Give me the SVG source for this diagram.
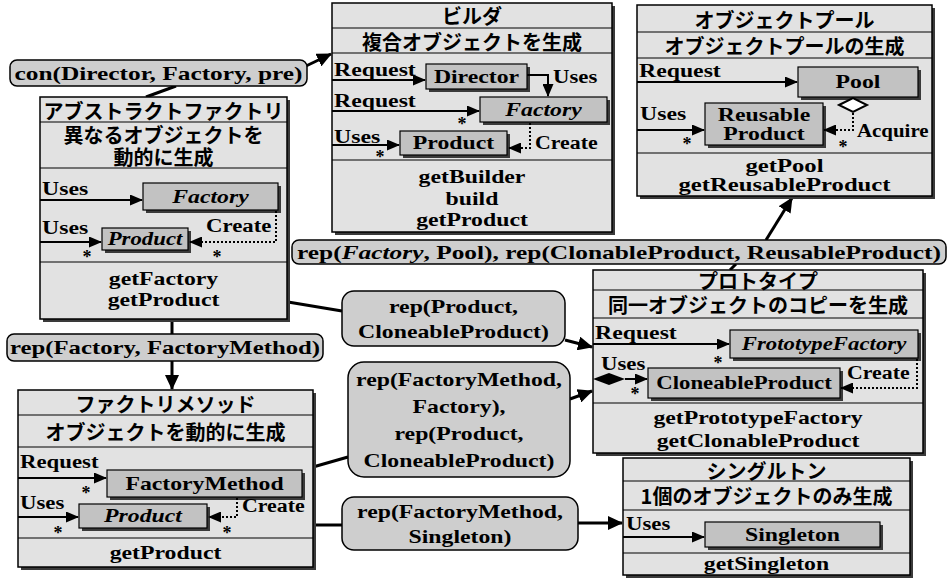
<svg xmlns="http://www.w3.org/2000/svg" width="949" height="586" viewBox="0 0 949 586">
<style>
.bg{fill:#fff}
.box{fill:#e2e2e2;stroke:#000;stroke-width:1.5}
.sh{fill:#3a3a3a}
.cls{fill:#c2c2c2;stroke:#000;stroke-width:1.2}
.lbl{fill:#cecece;stroke:#000;stroke-width:1.5}
.sep{stroke:#000;stroke-width:1.2}
.t{font-family:"Liberation Serif","Times New Roman",serif;font-weight:bold;font-size:19px;fill:#000}
.jp{font-family:"Noto Sans CJK JP",sans-serif;font-weight:bold;font-size:20px;fill:#000}
.c{text-anchor:middle;dominant-baseline:central}
.s{dominant-baseline:central}
.i{font-style:italic}
.st{font-family:"Liberation Serif",serif;font-size:18px;font-weight:bold;text-anchor:middle}
.ln{stroke:#000;stroke-width:2;fill:none}
.dot{stroke:#000;stroke-width:2;stroke-dasharray:2 2;fill:none}
.con{stroke:#000;stroke-width:3;fill:none}
</style>
<defs>
<marker id="ah" markerUnits="userSpaceOnUse" markerWidth="16" markerHeight="14" refX="14" refY="7" orient="auto"><path d="M0,0 L15,7 L0,14 z" fill="#000"/></marker>
<marker id="as" markerUnits="userSpaceOnUse" markerWidth="13" markerHeight="11" refX="12" refY="5.5" orient="auto"><path d="M0,0 L13,5.5 L0,11 z" fill="#000"/></marker>
</defs>
<rect class="bg" x="0" y="0" width="949" height="586"/>

<g id="connectors">
<path class="con" d="M306,66 L331,54" marker-end="url(#ah)"/>
<path class="con" d="M146,97 L176,86"/>
<path class="con" d="M172,319 V334"/>
<path class="con" d="M172,361 V389" marker-end="url(#ah)"/>
<path class="con" d="M288,302 L342,311"/>
<path class="con" d="M565,340 L592,347" marker-end="url(#ah)"/>
<path class="con" d="M313,467 L348,457"/>
<path class="con" d="M570,399 L592,391" marker-end="url(#ah)"/>
<path class="con" d="M313,525 H342"/>
<path class="con" d="M578,523 H622" marker-end="url(#ah)"/>
<path class="con" d="M730,270 L736,264"/>
<path class="con" d="M766,240 L792,198" marker-end="url(#ah)"/>
</g>

<g id="label-con">
<rect class="lbl" x="10" y="60" width="297" height="26" rx="7"/>
<text class="t c" x="158.5" y="73" font-size="20" textLength="288" lengthAdjust="spacingAndGlyphs">con(Director, Factory, pre)</text>
</g>

<g id="label-rep-factory-pool">
<rect class="lbl" x="292" y="240" width="654" height="24" rx="7"/>
<text class="t c" x="619" y="252" font-size="20" textLength="644" lengthAdjust="spacingAndGlyphs">rep(<tspan class="i">Factory</tspan>, Pool), rep(ClonableProduct, ReusableProduct)</text>
</g>

<g id="label-rep-factory-fm">
<rect class="lbl" x="7" y="334" width="316" height="27" rx="7"/>
<text class="t c" x="165" y="347.5" font-size="20" textLength="310" lengthAdjust="spacingAndGlyphs">rep(Factory, FactoryMethod)</text>
</g>

<g id="label-rep-product-cp">
<rect class="lbl" x="342" y="291" width="223" height="55" rx="12"/>
<text class="t c" transform="translate(453.5 307) scale(1.25 1)">rep(Product,</text>
<text class="t c" transform="translate(453.5 332) scale(1.25 1)">CloneableProduct)</text>
</g>

<g id="label-rep-fm-factory">
<rect class="lbl" x="348" y="362" width="222" height="115" rx="16"/>
<text class="t c" transform="translate(459 380) scale(1.25 1)">rep(FactoryMethod,</text>
<text class="t c" transform="translate(459 407) scale(1.25 1)">Factory),</text>
<text class="t c" transform="translate(459 434) scale(1.25 1)">rep(Product,</text>
<text class="t c" transform="translate(459 461) scale(1.25 1)">CloneableProduct)</text>
</g>

<g id="label-rep-fm-singleton">
<rect class="lbl" x="342" y="497" width="236" height="53" rx="12"/>
<text class="t c" transform="translate(460 512) scale(1.25 1)">rep(FactoryMethod,</text>
<text class="t c" transform="translate(460 537) scale(1.25 1)">Singleton)</text>
</g>

<g id="abstract-factory">
<rect class="sh" x="43" y="100" width="247" height="222"/>
<rect class="box" x="40" y="97" width="247" height="222"/>
<line class="sep" x1="40" y1="122" x2="287" y2="122"/>
<line class="sep" x1="40" y1="168" x2="287" y2="168"/>
<line class="sep" x1="40" y1="262" x2="287" y2="262"/>
<text class="jp c" x="163.5" y="110" font-size="18">アブストラクトファクトリ</text>
<text class="jp c" x="163.5" y="134" font-size="18">異なるオブジェクトを</text>
<text class="jp c" x="163.5" y="156" font-size="18">動的に生成</text>
<text class="t s" transform="translate(42 189) scale(1.25 1)">Uses</text>
<path class="ln" d="M40,200 H142" marker-end="url(#as)"/>
<rect class="sh" x="146" y="186" width="135" height="27"/>
<rect class="cls" x="143" y="183" width="135" height="27"/>
<text class="t c i" transform="translate(210.5 196.5) scale(1.25 1)">Factory</text>
<text class="t s" transform="translate(42 228) scale(1.25 1)">Uses</text>
<path class="ln" d="M40,242 H101" marker-end="url(#as)"/>
<rect class="sh" x="105" y="231" width="86" height="22"/>
<rect class="cls" x="102" y="228" width="86" height="22"/>
<text class="t c i" transform="translate(145 239) scale(1.2 1)">Product</text>
<text class="t s" transform="translate(206 226) scale(1.2 1)">Create</text>
<path class="dot" d="M276,211 V242 H190" marker-end="url(#as)"/>
<text class="st" x="87" y="263">*</text>
<text class="st" x="217" y="263">*</text>
<text class="t c" transform="translate(163.5 279) scale(1.25 1)">getFactory</text>
<text class="t c" transform="translate(163.5 300) scale(1.25 1)">getProduct</text>
</g>

<g id="builder">
<rect class="sh" x="335" y="6" width="280" height="229"/>
<rect class="box" x="332" y="3" width="280" height="229"/>
<line class="sep" x1="332" y1="28" x2="612" y2="28"/>
<line class="sep" x1="332" y1="53" x2="612" y2="53"/>
<line class="sep" x1="332" y1="160" x2="612" y2="160"/>
<text class="jp c" x="472" y="15.5" font-size="19">ビルダ</text>
<text class="jp c" x="472" y="41">複合オブジェクトを生成</text>
<text class="t s" transform="translate(334 70) scale(1.25 1)">Request</text>
<path class="ln" d="M332,80 H425" marker-end="url(#as)"/>
<rect class="sh" x="429" y="67" width="101" height="25"/>
<rect class="cls" x="426" y="64" width="101" height="25"/>
<text class="t c" transform="translate(476.5 76.5) scale(1.25 1)">Director</text>
<path class="ln" d="M527,75 H548 V96" marker-end="url(#as)"/>
<text class="t s" transform="translate(553 77) scale(1.2 1)">Uses</text>
<text class="t s" transform="translate(334 101) scale(1.25 1)">Request</text>
<path class="ln" d="M332,111 H479" marker-end="url(#as)"/>
<rect class="sh" x="483" y="100" width="127" height="25"/>
<rect class="cls" x="480" y="97" width="127" height="25"/>
<text class="t c i" transform="translate(543.5 109.5) scale(1.25 1)">Factory</text>
<text class="st" x="462" y="130">*</text>
<text class="t s" transform="translate(334 137) scale(1.25 1)">Uses</text>
<path class="ln" d="M332,145 H399" marker-end="url(#as)"/>
<rect class="sh" x="403" y="134" width="107" height="24"/>
<rect class="cls" x="400" y="131" width="107" height="24"/>
<text class="t c" transform="translate(453.5 143) scale(1.25 1)">Product</text>
<text class="st" x="380" y="163">*</text>
<path class="dot" d="M530,123 V148 H509" marker-end="url(#as)"/>
<text class="t s" transform="translate(535 143) scale(1.15 1)">Create</text>
<text class="t c" transform="translate(472 177) scale(1.25 1)">getBuilder</text>
<text class="t c" transform="translate(472 199) scale(1.25 1)">build</text>
<text class="t c" transform="translate(472 220) scale(1.25 1)">getProduct</text>
</g>

<g id="object-pool">
<rect class="sh" x="640" y="8" width="295" height="191"/>
<rect class="box" x="637" y="5" width="295" height="191"/>
<line class="sep" x1="637" y1="32" x2="932" y2="32"/>
<line class="sep" x1="637" y1="58" x2="932" y2="58"/>
<line class="sep" x1="637" y1="153" x2="932" y2="153"/>
<text class="jp c" x="784.5" y="19">オブジェクトプール</text>
<text class="jp c" x="784.5" y="45">オブジェクトプールの生成</text>
<text class="t s" transform="translate(639 71) scale(1.25 1)">Request</text>
<path class="ln" d="M637,82 H797" marker-end="url(#as)"/>
<rect class="sh" x="801" y="70" width="120" height="30"/>
<rect class="cls" x="798" y="67" width="120" height="30"/>
<text class="t c" transform="translate(858 82) scale(1.25 1)">Pool</text>
<text class="t s" transform="translate(640 114) scale(1.25 1)">Uses</text>
<path class="ln" d="M637,130 H704" marker-end="url(#as)"/>
<rect class="sh" x="708" y="106" width="118" height="42"/>
<rect class="cls" x="705" y="103" width="118" height="42"/>
<text class="t c" transform="translate(764 115) scale(1.25 1)">Reusable</text>
<text class="t c" transform="translate(764 134) scale(1.25 1)">Product</text>
<text class="st" x="687" y="150">*</text>
<polygon points="839,105 853,98 867,105 853,112" fill="#fff" stroke="#000" stroke-width="2"/>
<path class="dot" d="M853,113 V130 H824" marker-end="url(#as)"/>
<text class="t s" transform="translate(857 130) scale(1.1 1)">Acquire</text>
<text class="st" x="843" y="153">*</text>
<text class="t c" font-size="18" transform="translate(784.5 166) scale(1.3 1)">getPool</text>
<text class="t c" font-size="18" transform="translate(784.5 185) scale(1.3 1)">getReusableProduct</text>
</g>

<g id="prototype">
<rect class="sh" x="596" y="273" width="330" height="183"/>
<rect class="box" x="593" y="270" width="330" height="183"/>
<line class="sep" x1="593" y1="290" x2="923" y2="290"/>
<line class="sep" x1="593" y1="318" x2="923" y2="318"/>
<line class="sep" x1="593" y1="403" x2="923" y2="403"/>
<text class="jp c" x="758" y="280" font-size="18">プロトタイプ</text>
<text class="jp c" x="758" y="304">同一オブジェクトのコピーを生成</text>
<text class="t s" transform="translate(595 333) scale(1.25 1)">Request</text>
<path class="ln" d="M593,344 H729" marker-end="url(#as)"/>
<rect class="sh" x="733" y="333" width="188" height="28"/>
<rect class="cls" x="730" y="330" width="188" height="28"/>
<text class="t c i" transform="translate(824 344) scale(1.2 1)">FrototypeFactory</text>
<text class="st" x="718" y="369">*</text>
<text class="t s" transform="translate(601 364) scale(1.2 1)">Uses</text>
<polygon points="593,379 609,373 625,379 609,385" fill="#000"/>
<path class="ln" d="M625,379 H647" marker-end="url(#as)"/>
<rect class="sh" x="651" y="371" width="192" height="30"/>
<rect class="cls" x="648" y="368" width="192" height="30"/>
<text class="t c" transform="translate(744 383) scale(1.2 1)">CloneableProduct</text>
<text class="st" x="635" y="400">*</text>
<path class="dot" d="M917,359 V388 H841" marker-end="url(#as)"/>
<text class="t s" transform="translate(847 373) scale(1.15 1)">Create</text>
<text class="t c" transform="translate(758 418) scale(1.25 1)">getPrototypeFactory</text>
<text class="t c" transform="translate(758 441) scale(1.25 1)">getClonableProduct</text>
</g>

<g id="factory-method">
<rect class="sh" x="21" y="393" width="295" height="177"/>
<rect class="box" x="18" y="390" width="295" height="177"/>
<line class="sep" x1="18" y1="415" x2="313" y2="415"/>
<line class="sep" x1="18" y1="447" x2="313" y2="447"/>
<line class="sep" x1="18" y1="538" x2="313" y2="538"/>
<text class="jp c" x="165.5" y="403">ファクトリメソッド</text>
<text class="jp c" x="165.5" y="431">オブジェクトを動的に生成</text>
<text class="t s" transform="translate(20 462) scale(1.2 1)">Request</text>
<path class="ln" d="M18,478 H106" marker-end="url(#as)"/>
<rect class="sh" x="110" y="473" width="195" height="27"/>
<rect class="cls" x="107" y="470" width="195" height="27"/>
<text class="t c" transform="translate(204.5 483.5) scale(1.25 1)">FactoryMethod</text>
<text class="st" x="86" y="499">*</text>
<text class="t s" transform="translate(20 503) scale(1.2 1)">Uses</text>
<path class="ln" d="M18,517 H78" marker-end="url(#as)"/>
<rect class="sh" x="82" y="507" width="128" height="24"/>
<rect class="cls" x="79" y="504" width="128" height="24"/>
<text class="t c i" transform="translate(143 516) scale(1.25 1)">Product</text>
<text class="st" x="58" y="539">*</text>
<path class="dot" d="M237,498 V517 H209" marker-end="url(#as)"/>
<text class="t s" transform="translate(242 506) scale(1.15 1)">Create</text>
<text class="st" x="227" y="539">*</text>
<text class="t c" transform="translate(165.5 553) scale(1.25 1)">getProduct</text>
</g>

<g id="singleton">
<rect class="sh" x="626" y="461" width="287" height="117"/>
<rect class="box" x="623" y="458" width="287" height="117"/>
<line class="sep" x1="623" y1="481" x2="910" y2="481"/>
<line class="sep" x1="623" y1="510" x2="910" y2="510"/>
<line class="sep" x1="623" y1="553" x2="910" y2="553"/>
<text class="jp c" x="766.5" y="470" font-size="18">シングルトン</text>
<text class="jp c" x="766.5" y="495">1個のオブジェクトのみ生成</text>
<text class="t s" transform="translate(626 524) scale(1.2 1)">Uses</text>
<path class="ln" d="M623,537 H704" marker-end="url(#as)"/>
<rect class="sh" x="708" y="525" width="175" height="25"/>
<rect class="cls" x="705" y="522" width="175" height="25"/>
<text class="t c" transform="translate(792.5 534.5) scale(1.25 1)">Singleton</text>
<text class="t c" transform="translate(766.5 564) scale(1.25 1)">getSingleton</text>
</g>
</svg>
